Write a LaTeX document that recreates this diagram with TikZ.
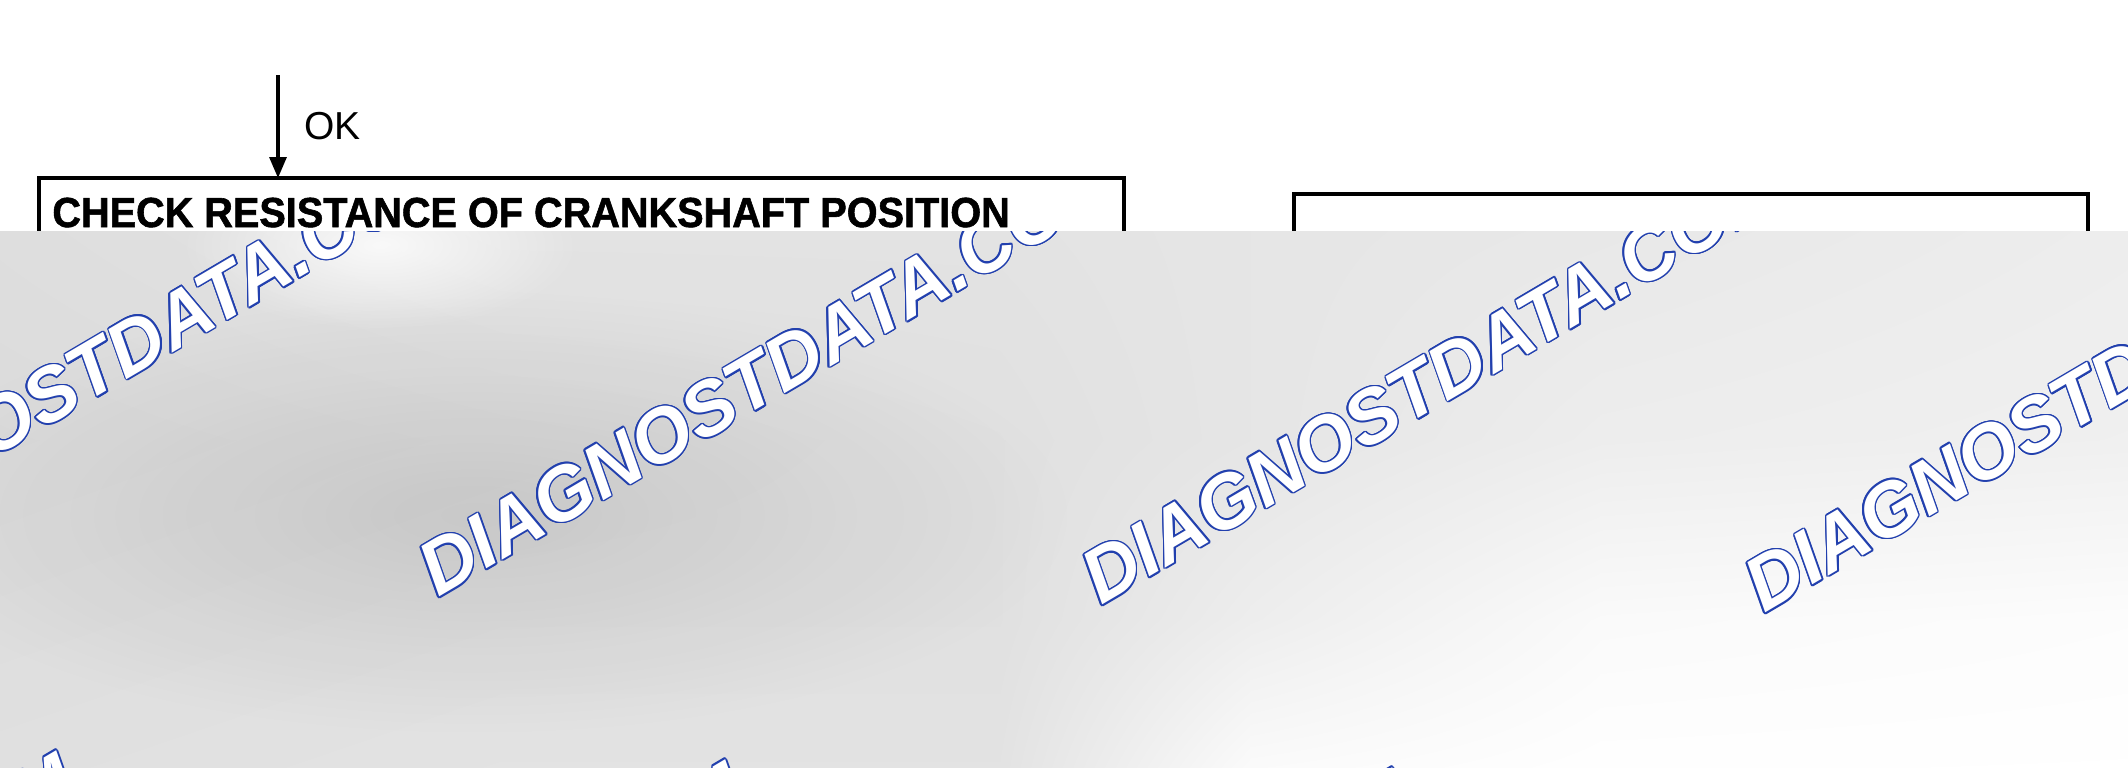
\documentclass[tikz,border=0pt]{standalone}
\usepackage{fontspec}
\setmainfont{Liberation Sans}
\newfontfamily\stepfont[BoldFeatures={FakeBold=1.4}]{Liberation Sans}
\usetikzlibrary{arrows.meta, positioning, fadings, shadings}
\definecolor{wmblue}{HTML}{2240AE}
\tikzfading[name=softspot, inner color=transparent!0, outer color=transparent!100]
\tikzset{
    stepbox/.style = {draw, line width=1.8pt, outer sep=0pt, inner sep=0pt,
        anchor=north west, minimum height=320pt},
    steptext/.style = {font=\stepfont\bfseries\fontsize{21}{25}\selectfont,
        anchor=base west, inner sep=0pt},
    okarrow/.style = {line width=1.6pt, -{Triangle[length=10.5pt, width=8.5pt]}},
    wmtext/.style = {font=\bfseries\itshape\fontsize{38}{42}\selectfont,
        anchor=base west, inner sep=0pt, rotate=30.5}
}

\begin{document}
\begin{tikzpicture}[x = 0.5pt, y = -0.5pt]
    \useasboundingbox (0,0) rectangle (2128,767);
    \coordinate (okin) at (278,75);
    \node[stepbox, minimum width=542.5pt] (chkres) at (39,178) {};
    \node[stepbox, minimum width=397pt] (nextbox) at (1294,194) {};
    \node[steptext] (chktxt) at ([shift={(13,49)}]chkres.north west)
        {\scalebox{0.944}[1]{CHECK RESISTANCE OF CRANKSHAFT POSITION}};
    \draw[okarrow] (okin) -- (okin |- chkres.north)
        node[midway, right=12.5pt, inner sep=0pt, font=\fontsize{19.5}{22}\selectfont] (oklbl) {OK};
    \begin{scope}
    \clip (-10,231) rectangle (2140,790);
    \foreach \xa/\xb/\ya/\yb/\ul/\ur/\ll/\lr in {
        0/500/231/440/13/11/14/13, 500/1000/231/440/11/11/13/12,
        1000/1250/231/440/11/10/12/10, 1250/1600/231/440/10/9/10/7,
        1600/2140/231/440/9/7/7/6,
        0/500/440/620/14/13/13/12, 500/1000/440/620/13/12/12/12,
        1000/1250/440/620/12/10/12/7, 1250/1600/440/620/10/7/7/2,
        1600/2140/440/620/7/6/2/1,
        0/500/620/790/13/12/12/11, 500/1000/620/790/12/12/11/11,
        1000/1250/620/790/12/7/11/1, 1250/1600/620/790/7/2/1/0,
        1600/2140/620/790/2/1/0/0}
        \shade[upper left=black!\ul, upper right=black!\ur,
            lower left=black!\ll, lower right=black!\lr]
            (\xa,\ya) rectangle (\xb+1,\yb+1);
    \fill[black, fill opacity=0.1, path fading=softspot] (-125,295) rectangle (1075,735);
    \fill[white, fill opacity=0.8, path fading=softspot] (180,160) rectangle (580,330);
    \foreach \wx/\wy [count=\i] in {-220/584, 438/598, 1101/606, 1764/614,
        -607/1202, 62/1211, 729/1219}
    {
        \foreach \a [count=\j] in {0,22.5,...,337.5}
            \node[wmtext, wmblue, xshift={0.75pt*cos(\a)}, yshift={0.75pt*sin(\a)}]
                (wm\i-\j) at (\wx,\wy) {DIAGNOSTDATA.COM};
        \node[wmtext, white] (wm\i) at (\wx,\wy) {DIAGNOSTDATA.COM};
    }
    \end{scope}
\end{tikzpicture}
\end{document}
